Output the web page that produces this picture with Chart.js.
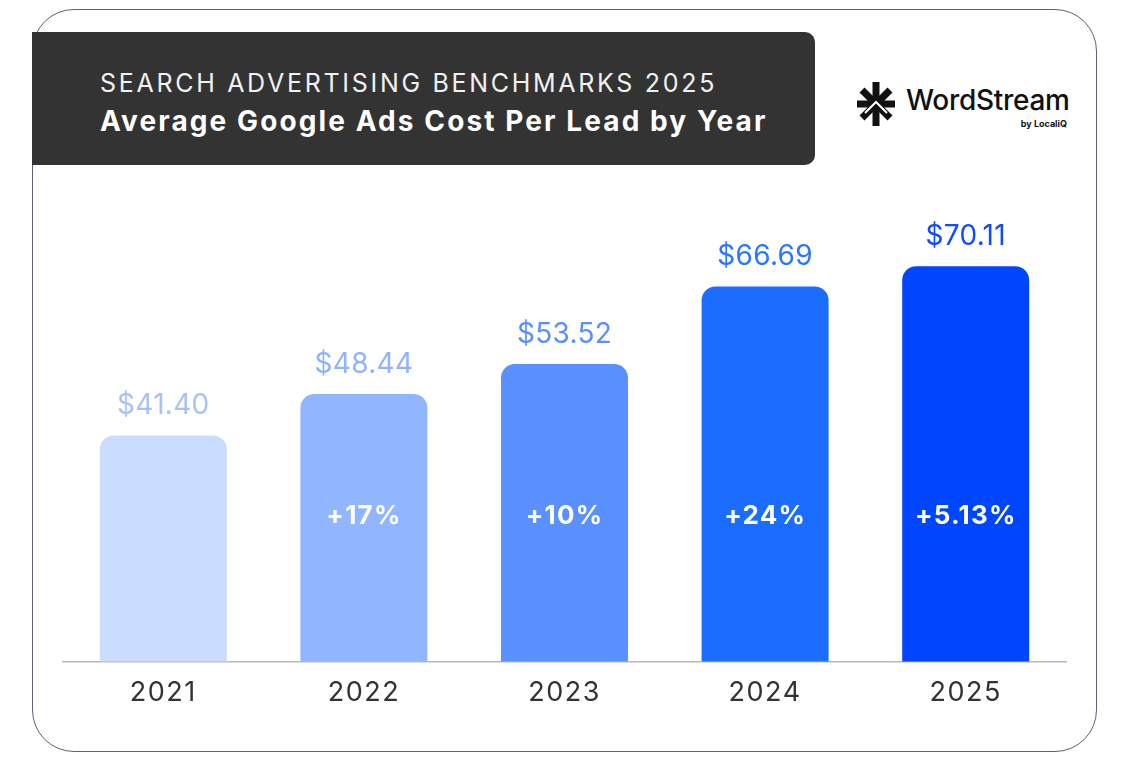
<!DOCTYPE html>
<html>
<head>
<meta charset="utf-8">
<script src="https://cdn.jsdelivr.net/npm/chart.js@4.4.1/dist/chart.umd.min.js"></script>
<style>
  body { margin: 0; background: #fff; font-family: Inter, "Noto Sans", sans-serif; }
  #wrap { position: relative; width: 1126px; height: 784px; overflow: hidden; }
  .card { position: absolute; left: 32px; top: 9px; width: 1063px; height: 741px;
          border: 1.5px solid #5d6272; border-radius: 42px; }
  .header { position: absolute; left: 32px; top: 32px; width: 783px; height: 133px;
            background: #333333; border-radius: 0 10px 10px 0; color: #fff; }
  .header .l1 { position: absolute; left: 68px; top: 36px; font-size: 25px; font-weight: 400;
                letter-spacing: 2.7px; white-space: nowrap; color: #f1f1f1; }
  .header .l2 { position: absolute; left: 68px; top: 72px; font-size: 28px; font-weight: 700;
                letter-spacing: 2.1px; white-space: nowrap; }
  .logo { position: absolute; left: 856px; top: 80px; width: 220px; height: 50px; }
  .logo .name { position: absolute; left: 50px; top: 3px; font-size: 28px; font-weight: 500;
                color: #111; letter-spacing: -0.3px; }
  .logo .by { position: absolute; right: 9px; top: 38px; font-size: 9px; font-weight: 700; color: #111; }
  canvas { position: absolute; left: 0; top: 0; }
</style>
</head>
<body>
<div id="wrap">
  <div class="card"></div>
  <div class="header">
    <div class="l1">SEARCH ADVERTISING BENCHMARKS 2025</div>
    <div class="l2">Average Google Ads Cost Per Lead by Year</div>
  </div>
  <div class="logo">
    <svg width="40" height="48" viewBox="0 0 40 48" style="position:absolute;left:0;top:0">
      <g stroke="#111" stroke-width="7" stroke-linecap="butt">
        <line x1="20" y1="2" x2="20" y2="46"/>
        <line x1="1" y1="24" x2="39" y2="24"/>
        <line x1="6" y1="10" x2="34" y2="38"/>
        <line x1="34" y1="10" x2="6" y2="38"/>
      </g>
      <polyline points="9,33 20,22 31,33" fill="none" stroke="#fff" stroke-width="2"/>
    </svg>
    <div class="name">WordStream</div>
    <div class="by">by LocaliQ</div>
  </div>
  <canvas id="cplChart" width="1126" height="784"></canvas>
</div>
<script>
// Средняя стоимость лида Google Ads по годам
const years = ['2021', '2022', '2023', '2024', '2025'];
const costPerLead = [41.40, 48.44, 53.52, 66.69, 70.11];
const growthLabels = ['', '+17%', '+10%', '+24%', '+5.13%'];
const barColors = ['#cadcff', '#91b5ff', '#5b91ff', '#1b6dff', '#0046ff'];
const valueColors = ['#a6c1fb', '#8fb3fd', '#5a8ffc', '#2b76ff', '#0d4cff'];

// на каком уровне шкалы стоят подписи роста внутри столбцов
const growthLabelAt = 27.7;

// разрядка для подписей оси (Chart.js сам её не умеет)
const tickSpacing = {
    id: 'tickSpacing',
    beforeDraw(chart) { chart.ctx.letterSpacing = '1.5px'; }
};

const barLabels = {
    id: 'barLabels',
    afterDatasetsDraw(chart) {
        const ctx = chart.ctx;
        const meta = chart.getDatasetMeta(0);
        const yScale = chart.scales.y;
        ctx.save();
        ctx.textAlign = 'center';
        meta.data.forEach((bar, i) => {
            ctx.letterSpacing = '0.3px';
            ctx.font = '400 28px Inter, "Noto Sans", sans-serif';
            ctx.fillStyle = valueColors[i];
            ctx.textBaseline = 'alphabetic';
            ctx.fillText('$' + costPerLead[i].toFixed(2), bar.x, bar.y - 21);

            if (growthLabels[i]) {
                ctx.letterSpacing = '1.2px';
                ctx.font = '700 26px Inter, "Noto Sans", sans-serif';
                ctx.fillStyle = '#ffffff';
                ctx.textBaseline = 'middle';
                ctx.fillText(growthLabels[i], bar.x, yScale.getPixelForValue(growthLabelAt));
            }
        });
        ctx.restore();
    }
};

new Chart(document.getElementById('cplChart').getContext('2d'), {
    type: 'bar',
    data: {
        labels: years,
        datasets: [{
            data: costPerLead,
            backgroundColor: barColors,
            borderRadius: { topLeft: 14, topRight: 14 },
            borderSkipped: 'bottom',
            barPercentage: 0.633,
            categoryPercentage: 1
        }]
    },
    options: {
        responsive: false,
        animation: false,
        layout: { padding: { left: 63, right: 60, top: 208, bottom: 60 } },
        plugins: { legend: { display: false }, tooltip: { enabled: false } },
        scales: {
            x: {
                grid: { display: false, drawTicks: false },
                border: { display: true, color: '#b8b8b8', width: 1.5 },
                ticks: { color: '#333333', padding: 15, font: { family: 'Inter', size: 27 } }
            },
            y: { display: false, min: 3, max: 80 }
        }
    },
    plugins: [tickSpacing, barLabels]
});
</script>
</body>
</html>
